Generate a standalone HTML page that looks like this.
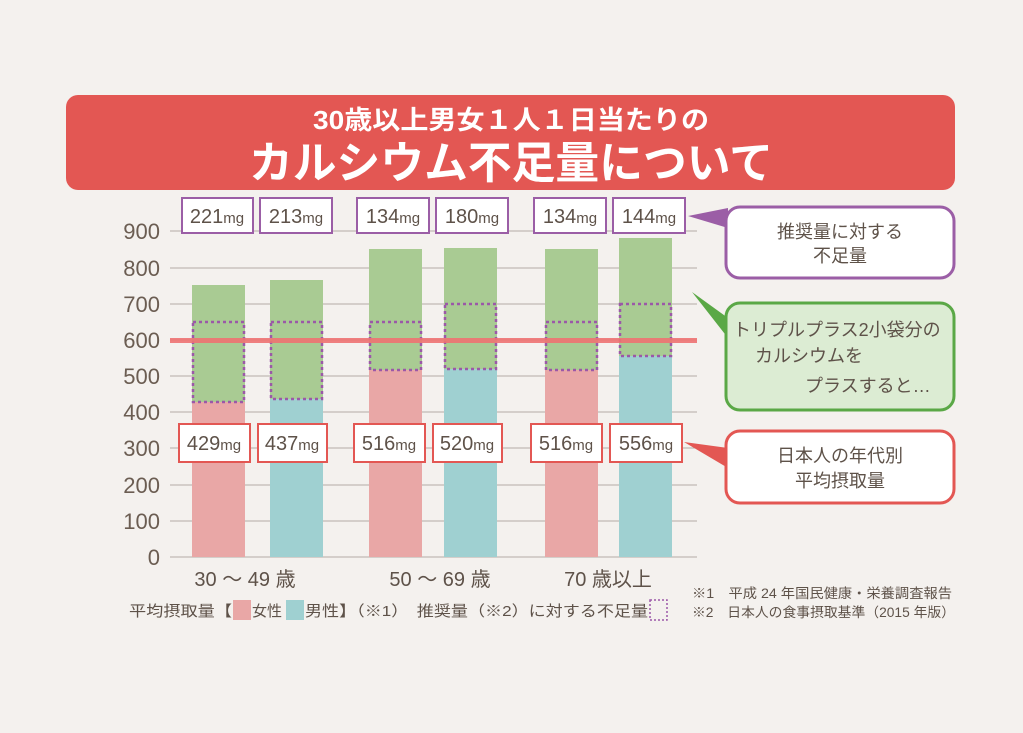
<!DOCTYPE html>
<html><head><meta charset="utf-8"><style>
body{margin:0;background:#f4f1ee;}
svg text{font-family:"Liberation Sans","Noto Sans CJK JP",sans-serif;}
</style></head><body>
<svg width="1023" height="728" viewBox="0 0 1023 728" xmlns="http://www.w3.org/2000/svg">
<rect width="1023" height="728" fill="#f4f1ee"/>
<rect x="66" y="95" width="889" height="95" rx="12" fill="#e35753"/>
<text x="511" y="129" text-anchor="middle" fill="#fff" font-size="26" font-weight="bold" textLength="396" lengthAdjust="spacingAndGlyphs">30歳以上男女１人１日当たりの</text>
<text x="511" y="178" text-anchor="middle" fill="#fff" font-size="44" font-weight="bold" textLength="524" lengthAdjust="spacingAndGlyphs">カルシウム不足量について</text>
<g stroke="#b3aca6" stroke-width="1">
<line x1="170" x2="697" y1="557" y2="557"/><line x1="170" x2="697" y1="521" y2="521"/>
<line x1="170" x2="697" y1="485" y2="485"/><line x1="170" x2="697" y1="448" y2="448"/>
<line x1="170" x2="697" y1="412" y2="412"/><line x1="170" x2="697" y1="376" y2="376"/>
<line x1="170" x2="697" y1="340" y2="340"/><line x1="170" x2="697" y1="304" y2="304"/>
<line x1="170" x2="697" y1="268" y2="268"/><line x1="170" x2="697" y1="231" y2="231"/>
</g>
<g font-size="22" fill="#6b5d52" text-anchor="end">
<text x="160" y="565">0</text><text x="160" y="529">100</text><text x="160" y="493">200</text>
<text x="160" y="456">300</text><text x="160" y="420">400</text><text x="160" y="384">500</text>
<text x="160" y="348">600</text><text x="160" y="312">700</text><text x="160" y="276">800</text>
<text x="160" y="239">900</text>
</g>
<g>
<rect x="192" y="285" width="53" height="272" fill="#a9cb93"/><rect x="192" y="402" width="53" height="155" fill="#e9a7a6"/>
<rect x="270" y="280" width="53" height="277" fill="#a9cb93"/><rect x="270" y="399" width="53" height="158" fill="#9fd0d1"/>
<rect x="369" y="249" width="53" height="308" fill="#a9cb93"/><rect x="369" y="370" width="53" height="187" fill="#e9a7a6"/>
<rect x="444" y="248" width="53" height="309" fill="#a9cb93"/><rect x="444" y="369" width="53" height="188" fill="#9fd0d1"/>
<rect x="545" y="249" width="53" height="308" fill="#a9cb93"/><rect x="545" y="370" width="53" height="187" fill="#e9a7a6"/>
<rect x="619" y="238" width="53" height="319" fill="#a9cb93"/><rect x="619" y="356" width="53" height="201" fill="#9fd0d1"/>
</g>
<g fill="none" stroke="#9b58a8" stroke-width="2.5" stroke-dasharray="3,3">
<rect x="193" y="322" width="51" height="80"/><rect x="271" y="322" width="51" height="77"/>
<rect x="370" y="322" width="51" height="48"/><rect x="445" y="304" width="51" height="65"/>
<rect x="546" y="322" width="51" height="48"/><rect x="620" y="304" width="51" height="52"/>
</g>
<rect x="170" y="338" width="527" height="5" fill="#ee7272" opacity="0.9"/>
<g fill="#fff" stroke="#9b5ea6" stroke-width="2">
<rect x="182" y="198" width="71" height="35"/><rect x="260" y="198" width="72" height="35"/>
<rect x="357" y="198" width="72" height="35"/><rect x="436" y="198" width="72" height="35"/>
<rect x="534" y="198" width="72" height="35"/><rect x="613" y="198" width="72" height="35"/>
</g>
<g fill="#fff" stroke="#e35753" stroke-width="2">
<rect x="179" y="424" width="71" height="38"/><rect x="258" y="424" width="69" height="38"/>
<rect x="354" y="424" width="71" height="38"/><rect x="433" y="424" width="69" height="38"/>
<rect x="531" y="424" width="71" height="38"/><rect x="610" y="424" width="72" height="38"/>
</g>
<g fill="#5e5249" font-size="20" text-anchor="middle">
<text x="217" y="223">221<tspan font-size="15">mg</tspan></text><text x="296" y="223">213<tspan font-size="15">mg</tspan></text>
<text x="393" y="223">134<tspan font-size="15">mg</tspan></text><text x="472" y="223">180<tspan font-size="15">mg</tspan></text>
<text x="570" y="223">134<tspan font-size="15">mg</tspan></text><text x="649" y="223">144<tspan font-size="15">mg</tspan></text>
<text x="214" y="450">429<tspan font-size="15">mg</tspan></text><text x="292" y="450">437<tspan font-size="15">mg</tspan></text>
<text x="389" y="450">516<tspan font-size="15">mg</tspan></text><text x="467" y="450">520<tspan font-size="15">mg</tspan></text>
<text x="566" y="450">516<tspan font-size="15">mg</tspan></text><text x="646" y="450">556<tspan font-size="15">mg</tspan></text>
</g>
<polygon points="688,216 728,208 728,228" fill="#9b5ea6"/>
<rect x="726" y="207" width="228" height="71" rx="14" fill="#fff" stroke="#9b5ea6" stroke-width="3"/>
<polygon points="692,292 728,318 728,338" fill="#5aa846"/>
<rect x="726" y="303" width="228" height="107" rx="14" fill="#dcecd3" stroke="#5aa846" stroke-width="3"/>
<polygon points="684,442 728,448 728,468" fill="#e35753"/>
<rect x="726" y="431" width="228" height="72" rx="14" fill="#fff" stroke="#e35753" stroke-width="3"/>
<g fill="#5e5249" font-size="18" text-anchor="middle">
<text x="840" y="238">推奨量に対する</text><text x="840" y="262">不足量</text>
<text x="733" y="336" text-anchor="start">トリプルプラス2小袋分の</text>
<text x="755" y="362" text-anchor="start">カルシウムを</text>
<text x="805" y="392" text-anchor="start">プラスすると…</text>
<text x="840" y="462">日本人の年代別</text><text x="840" y="487">平均摂取量</text>
</g>
<g fill="#5e5249" font-size="20" text-anchor="middle">
<text x="245" y="586">30 ～ 49 歳</text><text x="440" y="586">50 ～ 69 歳</text><text x="608" y="586">70 歳以上</text>
</g>
<g fill="#5e5249" font-size="15">
<text x="129" y="616" textLength="103" lengthAdjust="spacingAndGlyphs">平均摂取量【</text>
<rect x="233" y="600" width="18" height="20" fill="#e9a7a6"/><text x="252" y="616">女性</text>
<rect x="286" y="600" width="18" height="20" fill="#9fd0d1"/><text x="305" y="616" textLength="343" lengthAdjust="spacingAndGlyphs">男性】（※1）　推奨量（※2）に対する不足量</text>
<rect x="650" y="600" width="17" height="20" fill="none" stroke="#9b58a8" stroke-width="1.5" stroke-dasharray="2,2"/>
</g>
<g fill="#5e5249" font-size="13.5">
<text x="692" y="598" textLength="260" lengthAdjust="spacingAndGlyphs">※1　平成 24 年国民健康・栄養調査報告</text>
<text x="692" y="617" textLength="263" lengthAdjust="spacingAndGlyphs">※2　日本人の食事摂取基準（2015 年版）</text>
</g>
</svg>
</body></html>
